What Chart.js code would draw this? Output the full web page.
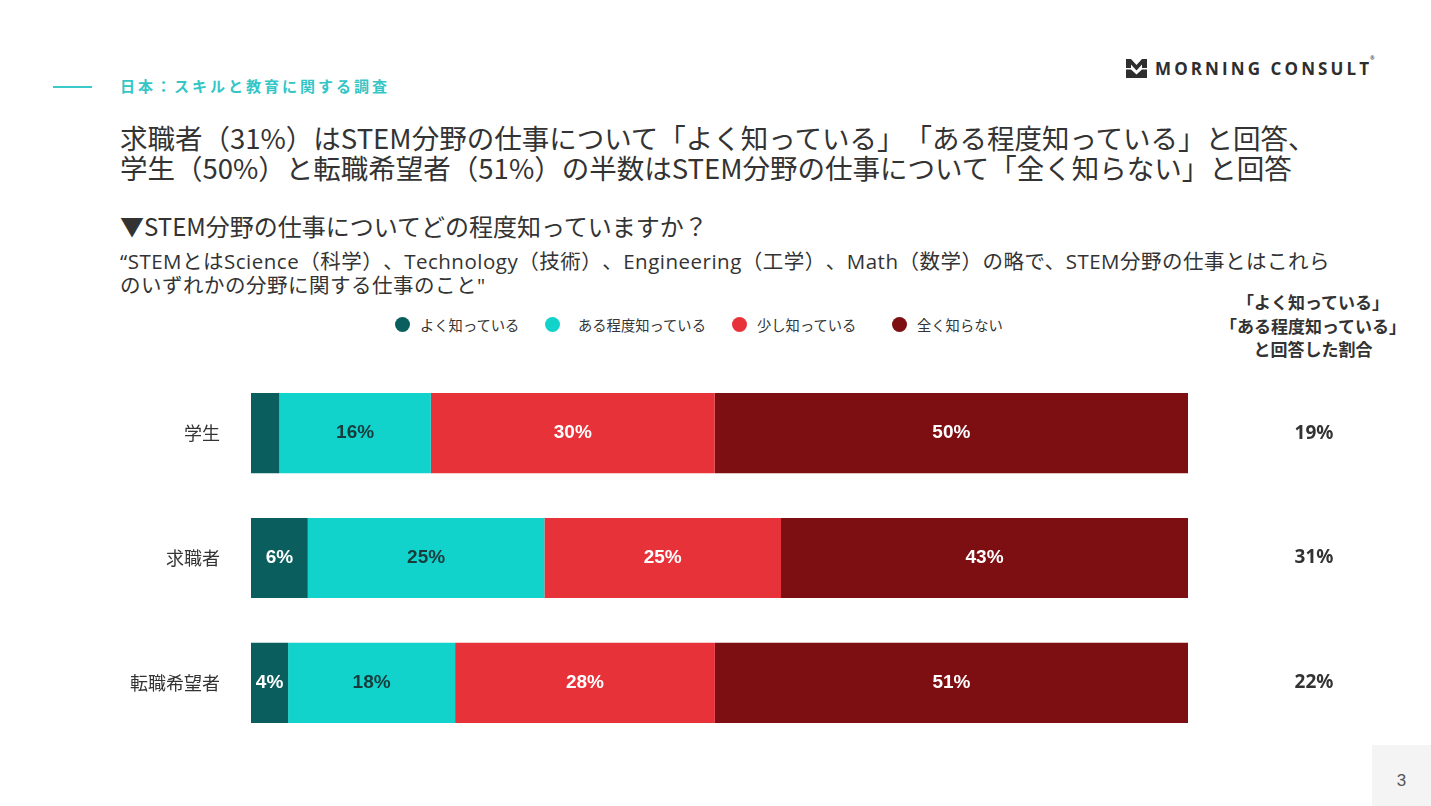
<!DOCTYPE html>
<html lang="ja">
<head>
<meta charset="utf-8">
<title>STEM分野の仕事の認知度</title>
<script src="https://cdn.jsdelivr.net/npm/chart.js@4/dist/chart.umd.min.js"></script>
<style>
  html, body { margin: 0; padding: 0; background: #fff; }
  body { width: 1431px; height: 806px; position: relative; overflow: hidden;
         font-family: "Noto Sans CJK JP", "Noto Sans", sans-serif; color: #333;
         text-spacing-trim: space-all; }
  .abs { position: absolute; white-space: nowrap; }
  .rule { left: 53px; top: 86px; width: 39px; height: 1.5px; background: #3cc9c9; }
  .kicker { left: 120px; top: 75px; font-size: 15px; font-weight: 700; color: #34c6c6; letter-spacing: 3px; }
  .logo { left: 1126px; top: 57px; display: flex; align-items: center; }
  .logo span { font-family: "Open Sans", sans-serif; font-weight: 700; font-size: 17px; letter-spacing: 3.1px; color: #2e2e2e; margin-left: 8px; }
  .logo sup { font-size: 5px; margin-left: -2px; position: relative; top: -8px; }
  .title { left: 120px; top: 122px; font-size: 27.5px; line-height: 30px; color: #333; }
  .sub { left: 120px; top: 211px; font-size: 24px; line-height: 30px; color: #333; }
  .note { left: 120px; top: 249px; font-family: "Open Sans", "Noto Sans CJK JP", sans-serif; font-size: 20.5px; line-height: 24px; letter-spacing: 0.5px; color: #333; }
  .legend { top: 314px; font-size: 14.3px; color: #333; display: flex; align-items: center; }
  .legend i { display: inline-block; width: 15px; height: 15px; border-radius: 50%; }
  .sidehead { left: 1193px; top: 290px; width: 240px; text-align: center; font-size: 17px; font-weight: 700; line-height: 23.5px; color: #333; }
  .pageno { left: 1372px; top: 745px; width: 59px; height: 61px; background: #f4f4f4;
            font-family: "Liberation Sans", sans-serif; font-size: 17px; color: #555; text-align: center; line-height: 72px; }
  /* the y tick padding adds ~42px above and below the plot area */
  #awareChart { position: absolute; left: 0; top: 329px; }
</style>
</head>
<body>

<div class="abs rule"></div>
<div class="abs kicker">日本：スキルと教育に関する調査</div>

<div class="abs logo">
  <svg width="21" height="19" viewBox="0 0 21 19">
    <polygon points="0,0 5,0 10.5,6 16,0 21,0 21,9 16,9 16,5.5 10.5,11.5 5,5.5 5,9 0,9" fill="#2e2e2e"/>
    <polygon points="0,10.5 5,10.5 10.5,15.5 16,10.5 21,10.5 21,19 16,19 10.5,19 5,19 0,19" fill="#2e2e2e"/>
  </svg>
  <span>MORNING CONSULT<sup>®</sup></span>
</div>

<div class="abs title">求職者（31%）はSTEM分野の仕事について「よく知っている」「ある程度知っている」と回答、<br>学生（50%）と転職希望者（51%）の半数はSTEM分野の仕事について「全く知らない」と回答</div>
<div class="abs sub">▼STEM分野の仕事についてどの程度知っていますか？</div>
<div class="abs note">“STEMとはScience（科学）、Technology（技術）、Engineering（工学）、Math（数学）の略で、STEM分野の仕事とはこれら<br>のいずれかの分野に関する仕事のこと"</div>

<div id="legend"></div>

<div class="abs sidehead">「よく知っている」<br>「ある程度知っている」<br>と回答した割合</div>

<canvas id="awareChart" width="1431" height="458"></canvas>

<div class="abs pageno">3</div>

<script>
// data
const groups = ['学生', '求職者', '転職希望者'];
const seriesNames = ['よく知っている', 'ある程度知っている', '少し知っている', '全く知らない'];
const wellKnown = [3, 6, 4];
const somewhatKnown = [16, 25, 18];
const littleKnown = [30, 25, 28];
const notKnown = [50, 43, 51];
const topTwo = [19, 31, 22];

const colors = ['#0b5e5e', '#12d3cc', '#e8323a', '#7d0e11'];
const labelColors = ['#ffffff', '#173c3c', '#ffffff', '#ffffff'];
const legendLeft = [395, 545, 732, 892];
const legendGap = [10, 18, 10, 10];

const series = [wellKnown, somewhatKnown, littleKnown, notKnown];

// each bar is drawn as a full 100% row
const rowTotals = groups.map((g, i) => series.reduce((s, arr) => s + arr[i], 0));

// legend
const legendBox = document.getElementById('legend');
seriesNames.forEach((name, k) => {
  const item = document.createElement('div');
  item.className = 'abs legend';
  item.style.left = legendLeft[k] + 'px';
  item.innerHTML = `<i style="background:${colors[k]}"></i><span style="margin-left:${legendGap[k]}px">${name}</span>`;
  legendBox.appendChild(item);
});

const barLabels = {
  id: 'barLabels',
  afterDatasetsDraw(chart) {
    const ctx = chart.ctx;
    ctx.save();
    ctx.font = 'bold 19px "Liberation Sans", Arial, sans-serif';
    ctx.textAlign = 'center';
    ctx.textBaseline = 'middle';
    chart.data.datasets.forEach((ds, k) => {
      chart.getDatasetMeta(k).data.forEach((bar, i) => {
        const v = ds.raw[i];
        if (v < 4) return;
        const cx = (bar.x + bar.base) / 2;
        ctx.fillStyle = labelColors[k];
        ctx.fillText(v + '%', cx, bar.y);
      });
    });
    // right-hand column
    ctx.font = 'bold 19px "Noto Sans", sans-serif';
    ctx.fillStyle = '#333';
    const yScale = chart.scales.y;
    topTwo.forEach((v, i) => {
      ctx.fillText(v + '%', 1314, yScale.getPixelForValue(i));
    });
    ctx.restore();
  }
};

const ctx = document.getElementById('awareChart').getContext('2d');
const awareChart = new Chart(ctx, {
  type: 'bar',
  data: {
    labels: groups,
    datasets: series.map((arr, k) => ({
      label: seriesNames[k],
      raw: arr,
      data: arr.map((v, i) => v / rowTotals[i] * 100),
      backgroundColor: colors[k],
      borderWidth: 0,
      barPercentage: 0.643,
      categoryPercentage: 1
    }))
  },
  options: {
    indexAxis: 'y',
    responsive: false,
    animation: false,
    layout: { padding: { left: 0, right: 243, top: 0, bottom: 0 } },
    plugins: {
      legend: { display: false },
      tooltip: { enabled: false }
    },
    scales: {
      x: {
        stacked: true,
        min: 0,
        max: 100,
        display: false
      },
      y: {
        stacked: true,
        grid: { display: false, drawTicks: false },
        border: { display: false },
        ticks: {
          padding: 31,
          color: '#333',
          font: { family: '"Noto Sans CJK JP", sans-serif', size: 18 }
        },
        afterFit(scale) { scale.width = 251; }
      }
    }
  },
  plugins: [barLabels]
});
</script>
</body>
</html>
